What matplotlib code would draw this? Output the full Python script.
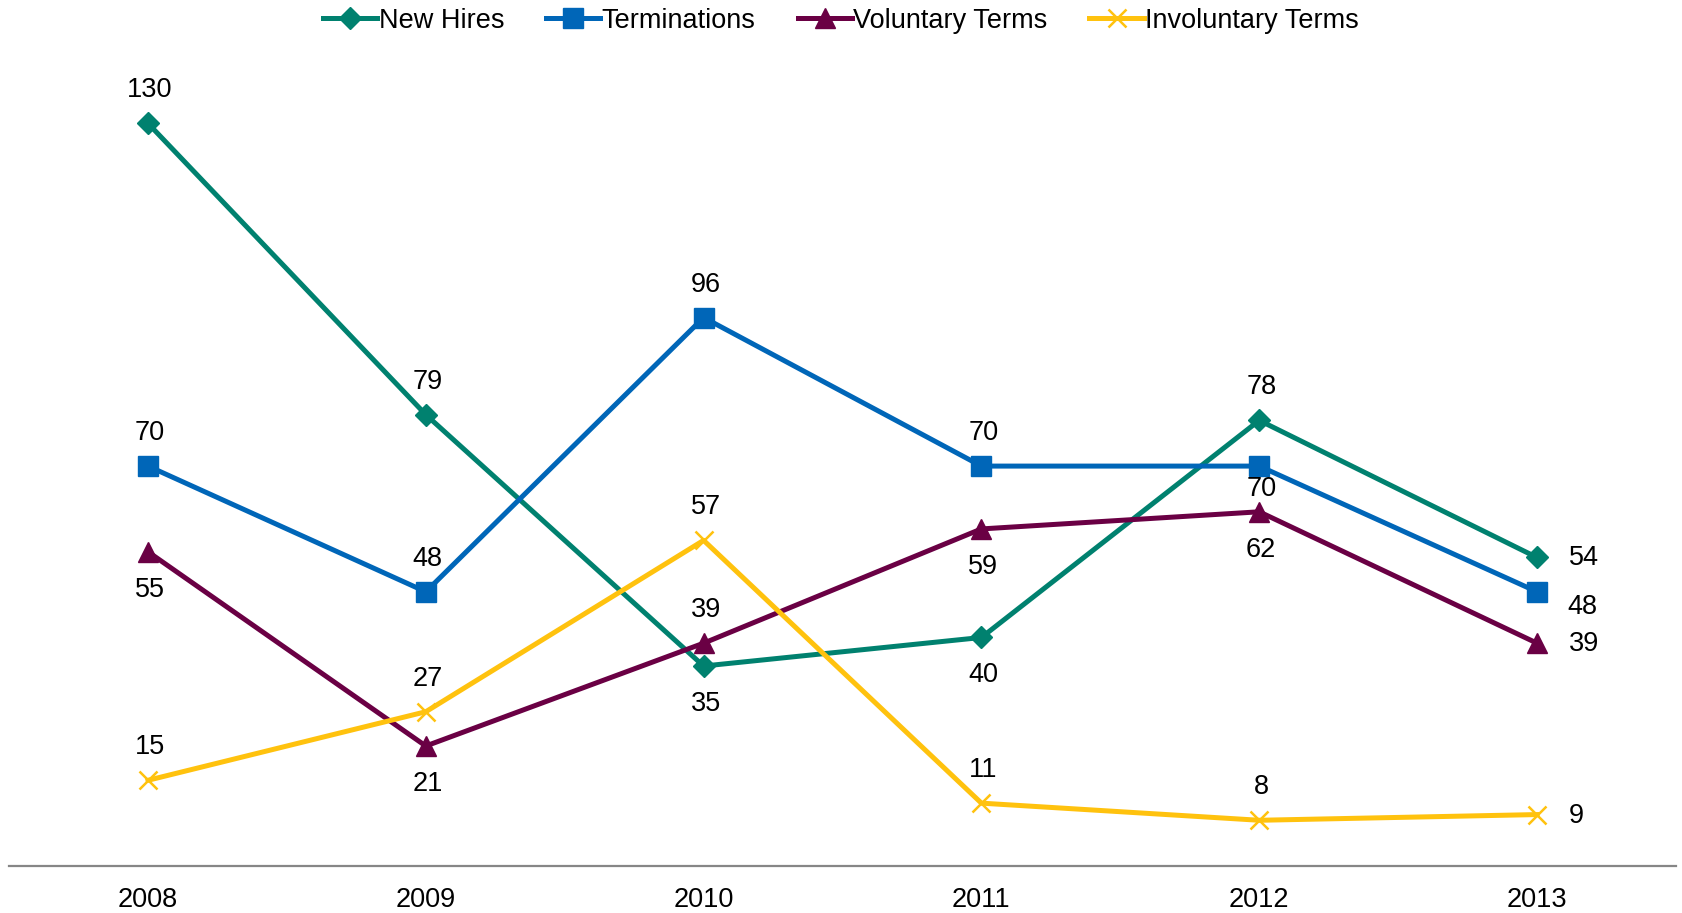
import matplotlib.pyplot as plt
import numpy as np

plt.rcParams['font.family'] = ['Liberation Sans', 'DejaVu Sans']

years = ['2008', '2009', '2010', '2011', '2012', '2013']
new_hires = [130, 79, 35, 40, 78, 54]
terminations = [70, 48, 96, 70, 70, 48]
voluntary = [55, 21, 39, 59, 62, 39]
involuntary = [15, 27, 57, 11, 8, 9]

# where each data label sits: a = above, b = below, r = right
pos_hires = ['a', 'a', 'b', 'b', 'a', 'r']
pos_terms = ['a', 'a', 'a', 'a', 'bs', 'rb']
pos_vol = ['b', 'b', 'a', 'b', 'b', 'r']
pos_invol = ['a', 'a', 'a', 'a', 'a', 'r']

offsets = {'a': (2, 33), 'b': (2, -38), 'bs': (2, -23), 'r': (32, -1), 'rb': (30, -15)}


def main():
    fig = plt.figure(figsize=(16.82, 9.13), dpi=100)
    ax = fig.add_axes([0.0054, 0.0515, 0.991, 0.876])
    x = np.arange(len(years))

    series = [
        ('New Hires', new_hires, '#00816F', 'D', 11, pos_hires),
        ('Terminations', terminations, '#0066B8', 's', 14, pos_terms),
        ('Voluntary Terms', voluntary, '#6A0044', '^', 14, pos_vol),
        ('Involuntary Terms', involuntary, '#FFC20E', 'x', 13, pos_invol),
    ]
    for name, vals, color, mk, ms, pos in series:
        ax.plot(x, vals, color=color, lw=3.6, marker=mk, ms=ms,
                mew=1.8 if mk == 'x' else 1, mec=color, mfc=color, label=name)
        for xi, v, p in zip(x, vals, pos):
            ax.annotate(str(v), (xi, v), xytext=offsets[p], textcoords='offset pixels',
                        ha='left' if p.startswith('r') else 'center',
                        va='center', fontsize=19.5, color='black')

    ax.set_xlim(-0.5, 5.5)
    ax.set_ylim(0, 140)
    ax.set_xticks(x)
    ax.set_xticklabels(years, fontsize=19.5)
    ax.tick_params(axis='x', length=0, pad=15)
    ax.set_yticks([])
    for s in ['left', 'right', 'top']:
        ax.spines[s].set_visible(False)
    ax.spines['bottom'].set_color('#868686')
    ax.spines['bottom'].set_linewidth(1.6)

    fig.legend(loc='upper center', bbox_to_anchor=(0.5, 1.018), ncol=4, frameon=False,
               fontsize=19.5, handlelength=2.0, handletextpad=0.05, columnspacing=1.55)
    fig.savefig('out.png', dpi=100, facecolor='white')


if __name__ == '__main__':
    main()
